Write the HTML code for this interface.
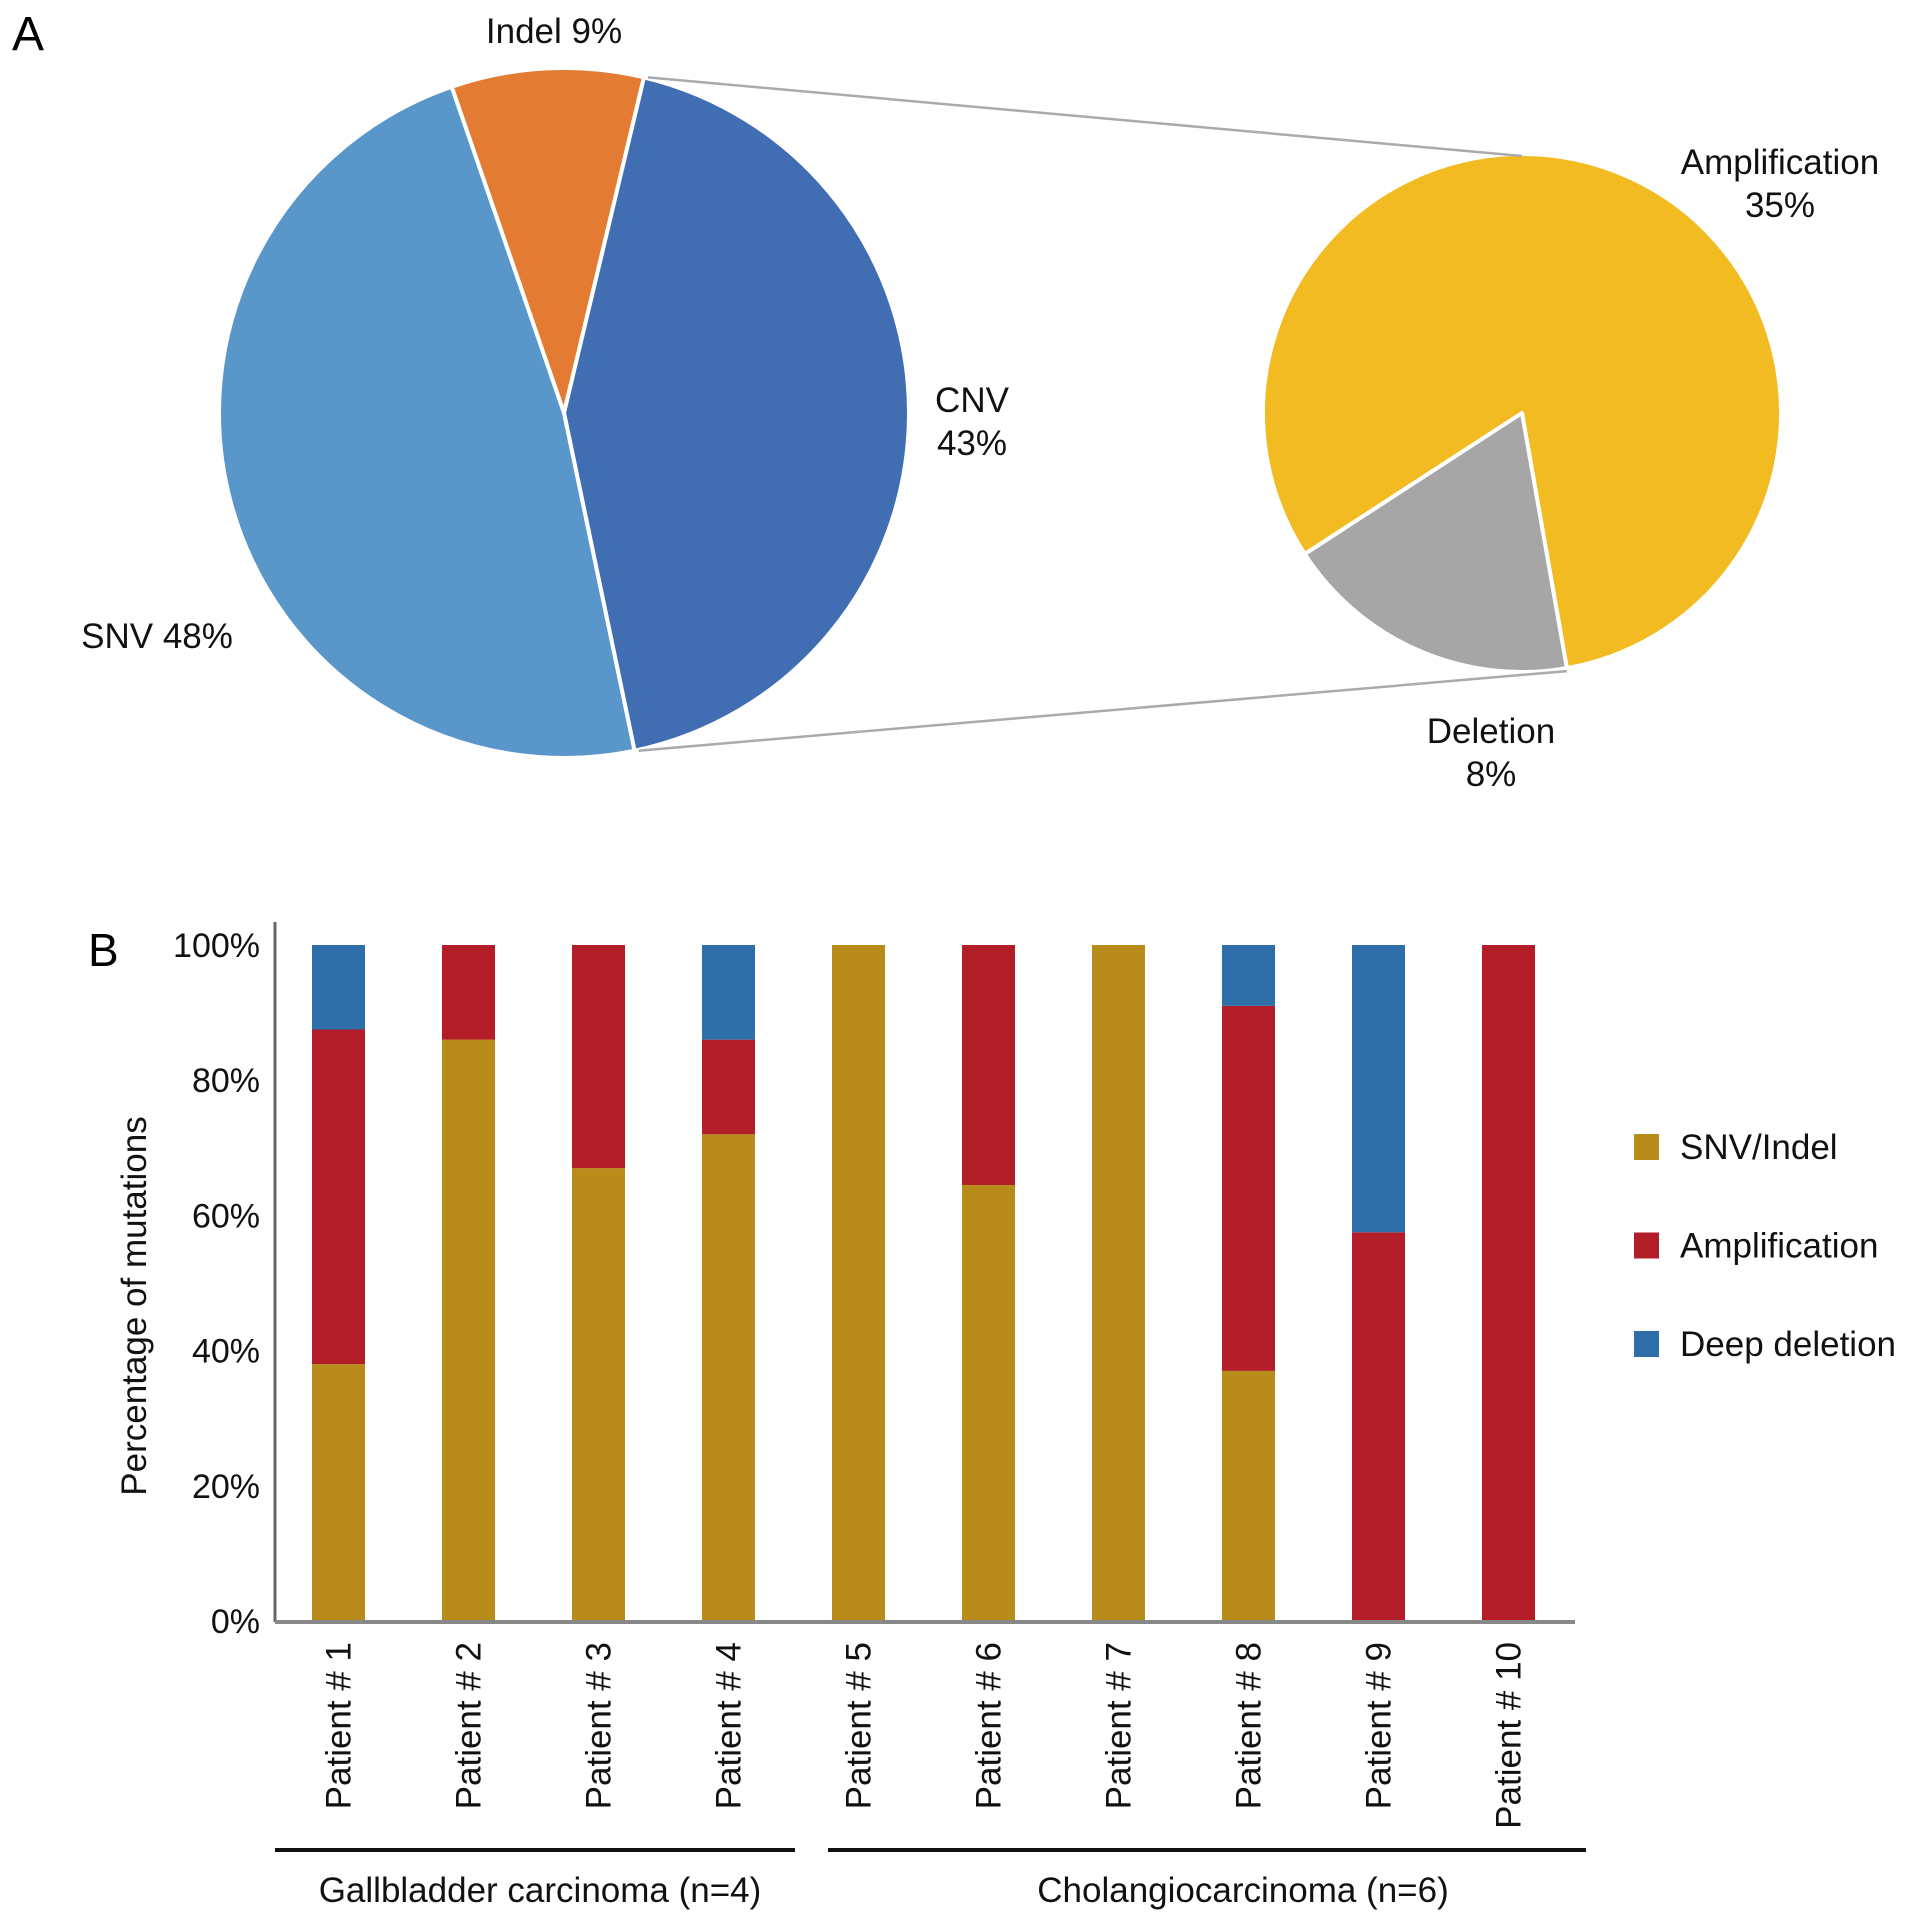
<!DOCTYPE html>
<html><head><meta charset="utf-8"><style>
html,body{margin:0;padding:0;background:#fff;}
svg{display:block;font-family:"Liberation Sans",sans-serif;}
</style></head><body>
<svg id="fig" width="1913" height="1926" viewBox="0 0 1913 1926">
<text x="12" y="50" font-size="48">A</text>
<text x="88" y="966" font-size="46">B</text>
<g id="pies"></g>
<g id="bars"></g>
</svg>
<script>
const pieLabels=["Indel","CNV","SNV"];
const pieValues=[9,43,48];
const pieColors=["#e37b32","#416eb2","#5996ca"];
const subLabels=["Amplification","Deletion"];
const subValues=[35,8];
const subColors=["#f1bb21","#a6a6a6"];
const categories=["Patient # 1","Patient # 2","Patient # 3","Patient # 4","Patient # 5","Patient # 6","Patient # 7","Patient # 8","Patient # 9","Patient # 10"];
const snvIndel=[38,86,67,72,100,64.5,100,37,0,0];
const amplification=[49.5,14,33,14,0,35.5,0,54,57.5,100];
const deepDeletion=[12.5,0,0,14,0,0,0,9,42.5,0];
const yTicks=[0,20,40,60,80,100];
const seriesNames=["SNV/Indel","Amplification","Deep deletion"];
const seriesColors=["#b88c1a","#b21d27","#2e6faa"];

const NS="http://www.w3.org/2000/svg";
function mk(tag,attrs,parent){const e=document.createElementNS(NS,tag);for(const k in attrs)e.setAttribute(k,attrs[k]);parent.appendChild(e);return e;}
function pt(cx,cy,r,deg){const a=deg*Math.PI/180;return [cx+r*Math.sin(a),cy-r*Math.cos(a)];}
function slice(g,cx,cy,r,a0,a1,col,name){
  const p0=pt(cx,cy,r,a0),p1=pt(cx,cy,r,a1);const large=(a1-a0)>180?1:0;
  const p=mk('path',{d:`M${cx},${cy}L${p0[0]},${p0[1]}A${r},${r} 0 ${large} 1 ${p1[0]},${p1[1]}Z`,fill:col,stroke:'#fff','stroke-width':4,'stroke-linejoin':'round'},g);
  
  
  return [p0,p1];
}
const pg=document.getElementById('pies');
const cx1=564,cy1=413,r1=345;
let tot=pieValues.reduce((a,b)=>a+b,0),ang=-19;let cnvEdges=null;
pieValues.forEach((v,i)=>{const a1=ang+v/tot*360;const e=slice(pg,cx1,cy1,r1,ang,a1,pieColors[i],'slice-'+pieLabels[i].toLowerCase());if(i==1)cnvEdges=e;ang=a1;});
const cx2=1522,cy2=413,r2=259;
let tot2=subValues.reduce((a,b)=>a+b,0);let a2=-123;let delEdges=null;
subValues.forEach((v,i)=>{const b=a2+v/tot2*360;const e=slice(pg,cx2,cy2,r2,a2,b,subColors[i],'slice-'+subLabels[i].toLowerCase());if(i==1)delEdges=e;a2=b;});
let l=mk('line',{x1:cnvEdges[0][0]+4,y1:cnvEdges[0][1],x2:cx2,y2:cy2-r2+2,stroke:'#aaa','stroke-width':2.5},pg);


l=mk('line',{x1:cnvEdges[1][0]+4,y1:cnvEdges[1][1],x2:delEdges[0][0],y2:delEdges[0][1]+3,stroke:'#aaa','stroke-width':2.5},pg);


function txt(g,x,y,s,anchor,name,size){const t=mk('text',{x:x,y:y,'font-size':size||35,'text-anchor':anchor||'middle',fill:'#111'},g);t.textContent=s;
  
  return t;}
txt(pg,554,43,"Indel "+pieValues[0]+"%","middle","label-indel");
txt(pg,972,412,"CNV","middle","label-cnv");
txt(pg,972,455,pieValues[1]+"%","middle","label-cnv-pct");
txt(pg,157,648,"SNV "+pieValues[2]+"%","middle","label-snv");
txt(pg,1780,174,"Amplification","middle","label-amplification");
txt(pg,1780,217,subValues[0]+"%","middle","label-amplification-pct");
txt(pg,1491,743,"Deletion","middle","label-deletion");
txt(pg,1491,786,subValues[1]+"%","middle","label-deletion-pct");

const bg=document.getElementById('bars');
const X0=275,X1=1575,Y0=1621,Y100=945,step=130,first=338.5,bw=53;
const y=v=>Y0-(Y0-Y100)*v/100;
const xc=i=>first+i*step;
yTicks.forEach(t=>{txt(bg,260,y(t)+12,t+"%","end","y-tick-"+t,34);});
categories.forEach((c,i)=>{
  const vals=[snvIndel[i],amplification[i],deepDeletion[i]];let acc=0;
  vals.forEach((v,s)=>{if(v<=0)return;const r=mk('rect',{x:xc(i)-bw/2,y:y(acc+v),width:bw,height:y(acc)-y(acc+v),fill:seriesColors[s]},bg);
    
    acc+=v;});
  const t=mk('text',{x:0,y:0,'font-size':35,'text-anchor':'end',fill:'#111',transform:`translate(${xc(i)+12},1642) rotate(-90)`},bg);t.textContent=c;
  
  
});
l=mk('line',{x1:X0,y1:922,x2:X0,y2:Y0+1,stroke:'#666','stroke-width':3},bg);


l=mk('line',{x1:X0,y1:Y0+1,x2:X1,y2:Y0+1,stroke:'#888','stroke-width':4},bg);


const yt=mk('text',{x:0,y:0,'font-size':35,'text-anchor':'middle',fill:'#111',transform:'translate(146,1306) rotate(-90)'},bg);yt.textContent="Percentage of mutations";


seriesNames.forEach((n,i)=>{const yy=1147+i*98.5;
  const r=mk('rect',{x:1634,y:yy-13,width:25,height:26,fill:seriesColors[i]},bg);
  
  
  txt(bg,1680,yy+12,n,"start","legend-entry-"+(i+1),35);
});
l=mk('line',{x1:275,y1:1850,x2:795,y2:1850,stroke:'#111','stroke-width':4},bg);


l=mk('line',{x1:828,y1:1850,x2:1586,y2:1850,stroke:'#111','stroke-width':4},bg);


txt(bg,540,1902,"Gallbladder carcinoma (n=4)","middle","group-label-gallbladder",35);
txt(bg,1243,1902,"Cholangiocarcinoma (n=6)","middle","group-label-cholangio",35);
</script>
</body></html>
